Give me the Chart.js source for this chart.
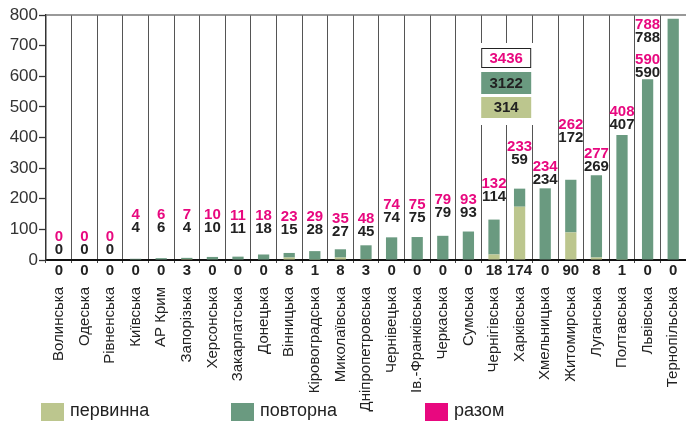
<!DOCTYPE html>
<html><head><meta charset="utf-8">
<script src="https://cdn.jsdelivr.net/npm/chart.js@4"></script>
<style>html,body{margin:0;padding:0;background:#fff}#w{width:686px;height:421px;position:relative}</style>
</head><body><div id="w"><canvas id="c" width="686" height="421"></canvas></div>
<script>
const categories = ["Волинська","Одеська","Рівненська","Київська","АР Крим","Запорізька","Херсонська","Закарпатська","Донецька","Вінницька","Кіровоградська","Миколаївська","Дніпропетровська","Чернівецька","Ів.-Франківська","Черкаська","Сумська","Чернігівська","Харківська","Хмельницька","Житомирська","Луганська","Полтавська","Львівська","Тернопільська"];
const primary = [0,0,0,0,0,3,0,0,0,8,1,8,3,0,0,0,0,18,174,0,90,8,1,0,0];
const repeat = [0,0,0,4,6,4,10,11,18,15,28,27,45,74,75,79,93,114,59,234,172,269,407,590,788];
const total = [0,0,0,4,6,7,10,11,18,23,29,35,48,74,75,79,93,132,233,234,262,277,408,590,788];
const sums = {total: 3436, repeat: 3122, primary: 314};
const yTicks = [0,100,200,300,400,500,600,700,800];
const legendLabels = ["первинна","повторна","разом"];

const C_PRI = '#bcc68e', C_REP = '#6a9a80', C_PINK = '#e8087f';
// hand-placed label anchors (value level of the black label's bottom)
const labelAnchor = [16,16,16,88,88,88,88,85,85,82,82,75,75,121,121,137,137,190,310,245,382,288,425,595,709];
const labelColShift = [0,0,0,0,0,0,0,0,0,0,0,0,0,0,0,0,0,0,0,0,0,0,0,0,-1];

const FONT = '"Liberation Sans", Arial, sans-serif';

const deco = {
  id: 'deco',
  afterDraw(chart) {
    const ctx = chart.ctx, x = chart.scales.x, y = chart.scales.y, a = chart.chartArea;
    const colW = x.getPixelForValue(1) - x.getPixelForValue(0);
    ctx.save();
    // top border line
    ctx.strokeStyle = '#777'; ctx.lineWidth = 1.5;
    ctx.beginPath(); ctx.moveTo(a.left, a.top); ctx.lineTo(a.right, a.top); ctx.stroke();
    // value labels
    ctx.font = 'bold 15px ' + FONT;
    ctx.textAlign = 'center'; ctx.textBaseline = 'alphabetic';
    for (let i = 0; i < categories.length; i++) {
      const cx = x.getPixelForValue(i + labelColShift[i]);
      const by = y.getPixelForValue(labelAnchor[i]);
      ctx.fillStyle = '#222';
      ctx.fillText(String(repeat[i]), cx, by - 1);
      ctx.fillStyle = C_PINK;
      ctx.fillText(String(total[i]), cx, by - 14);
    }
    // primary values under axis
    ctx.fillStyle = '#222';
    ctx.textBaseline = 'middle';
    for (let i = 0; i < categories.length; i++) {
      ctx.fillText(String(primary[i]), x.getPixelForValue(i), a.bottom + 11);
    }
    // category labels rotated
    ctx.font = '15px ' + FONT;
    ctx.textAlign = 'right';
    for (let i = 0; i < categories.length; i++) {
      ctx.save();
      ctx.translate(x.getPixelForValue(i), a.bottom + 27);
      ctx.rotate(-Math.PI / 2);
      ctx.fillText(categories[i], 0, 0);
      ctx.restore();
    }
    // summary box
    const bl = x.getPixelForValue(17) - colW / 2;
    ctx.fillStyle = '#fff';
    ctx.fillRect(bl - 2, a.top + 28, 2 * colW + 4, 82);
    const bw = 50;
    ctx.fillStyle = '#fff'; ctx.strokeStyle = '#222'; ctx.lineWidth = 1;
    ctx.fillRect(bl, a.top + 33, bw, 20);
    ctx.strokeRect(bl + 0.5, a.top + 33.5, bw - 1, 19);
    ctx.fillStyle = C_REP; ctx.fillRect(bl, a.top + 57, bw, 22);
    ctx.fillStyle = C_PRI; ctx.fillRect(bl, a.top + 82, bw, 21);
    ctx.font = 'bold 15px ' + FONT; ctx.textAlign = 'center'; ctx.textBaseline = 'middle';
    ctx.fillStyle = C_PINK; ctx.fillText(String(sums.total), bl + bw / 2, a.top + 43.5);
    ctx.fillStyle = '#222'; ctx.fillText(String(sums.repeat), bl + bw / 2, a.top + 68.5);
    ctx.fillText(String(sums.primary), bl + bw / 2, a.top + 93);
    // legend
    const cols = [C_PRI, C_REP, C_PINK];
    const lx = [41, 231, 425];
    ctx.font = '18px ' + FONT; ctx.textAlign = 'left'; ctx.textBaseline = 'middle';
    for (let k = 0; k < 3; k++) {
      ctx.fillStyle = cols[k]; ctx.fillRect(lx[k], 403, 23, 18);
      ctx.fillStyle = '#222'; ctx.fillText(legendLabels[k], lx[k] + 29, 411);
    }
    ctx.restore();
  }
};

new Chart(document.getElementById('c'), {
  type: 'bar',
  data: {
    labels: categories,
    datasets: [
      {label: legendLabels[0], data: primary, backgroundColor: C_PRI, stack: 's', barPercentage: 0.44, categoryPercentage: 1},
      {label: legendLabels[1], data: repeat, backgroundColor: C_REP, stack: 's', barPercentage: 0.44, categoryPercentage: 1}
    ]
  },
  options: {
    responsive: false, animation: false,
    layout: {padding: {top: 15, bottom: 161, left: 0, right: 0}},
    plugins: {legend: {display: false}, tooltip: {enabled: false}},
    scales: {
      x: {
        stacked: true, offset: true,
        grid: {offset: true, color: '#555', lineWidth: 1, drawTicks: true, tickLength: 3, tickColor: '#444'},
        border: {display: true, color: '#111', width: 2},
        ticks: {display: false},
        afterFit(s) { s.height = 0; }
      },
      y: {
        stacked: true, min: 0, max: 800,
        afterBuildTicks(s) { s.ticks = yTicks.map(v => ({value: v})); },
        grid: {drawOnChartArea: false, tickLength: 7, tickColor: '#333', tickWidth: 1.3},
        border: {display: true, color: '#333', width: 1.5},
        ticks: {color: '#333', padding: 1, font: {family: FONT, size: 17}},
        afterFit(s) { s.width = 46; }
      }
    }
  },
  plugins: [deco]
});
</script></body></html>
